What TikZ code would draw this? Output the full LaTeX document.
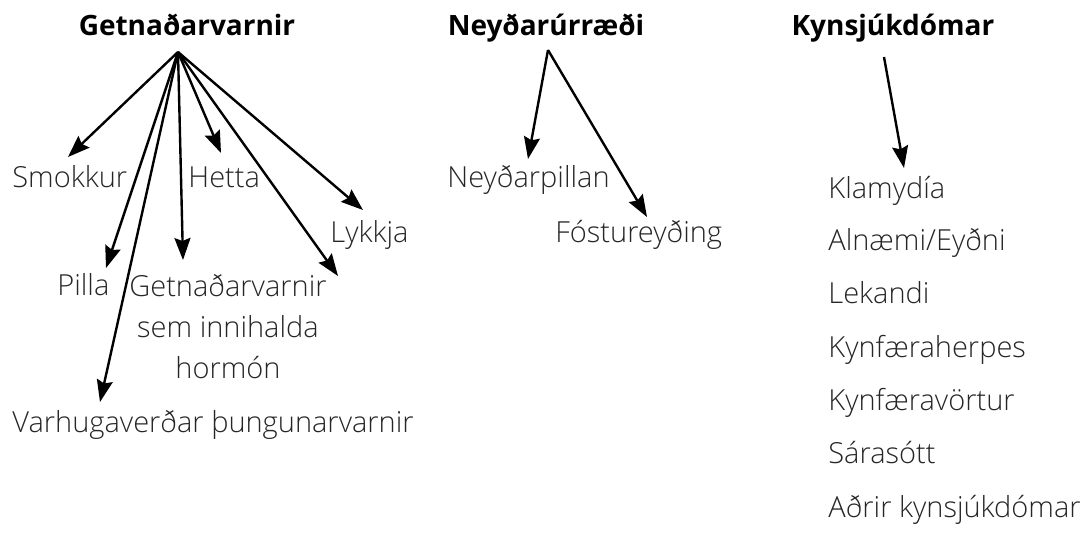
\documentclass[tikz,border=0pt]{standalone}
\usepackage{fontspec}
\setmainfont{Open Sans Light}[BoldFont={Open Sans Bold}]
\usetikzlibrary{arrows.meta}

\tikzset{
  item/.style={anchor=base west, inner sep=0pt, text=black!85,
    font=\fontsize{14.5}{20.5}\selectfont},
  head/.style={anchor=base, inner sep=0pt, font=\fontsize{14}{17}\selectfont\bfseries},
  link/.style={line width=1.2pt, -{Stealth[length=11pt,width=8pt,inset=1.5pt]}}
}

\begin{document}
\begin{tikzpicture}[x=0.5pt,y=-0.5pt]
  \useasboundingbox (0,0) rectangle (1088,542);

  % headings
  \node[head] (getn) at (187,35) {Getnaðarvarnir};
  \node[head] (neyd) at (546,35) {Neyðarúrræði};
  \node[head] (kyns) at (893,35) {Kynsjúkdómar};

  % contraception
  \node[item] (smokkur) at (12,187) {Smokkur};
  \node[item] (hetta) at (188,187) {Hetta};
  \node[item] (lykkja) at (330,242) {Lykkja};
  \node[item] (pilla) at (57,295) {Pilla};
  \node[item, anchor=north, align=center] (hormon) at (228,274)
    {Getnaðarvarnir\\sem innihalda\\hormón};
  \node[item] (varhug) at (12,432) {Varhugaverðar þungunarvarnir};

  \coordinate (getn from) at (178,52);
  \coordinate (to smokkur) at (68,157);
  \coordinate (to hetta) at (221,153);
  \coordinate (to lykkja) at (363,210);
  \coordinate (to pilla) at (106,268);
  \coordinate (to hormon) at (183,260);
  \coordinate (to hormon2) at (338,276);
  \coordinate (to varhug) at (100,402);

  \foreach \t in {smokkur,hetta,lykkja,pilla,hormon,hormon2,varhug} {
    \draw[link] (getn from) -- (to \t);
  }

  % emergency
  \node[item] (pillan) at (447,187) {Neyðarpillan};
  \node[item] (fost) at (555,242) {Fóstureyðing};

  \coordinate (neyd from) at (548,50);
  \coordinate (to pillan) at (528,159);
  \coordinate (to fost) at (647,217);

  \draw[link] (neyd from) -- (to pillan);
  \draw[link] (neyd from) -- (to fost);

  % diseases
  \node[item] (klam) at (828,198) {Klamydía};
  \node[item] (alnaemi) at (828,250) {Alnæmi/Eyðni};
  \node[item] (lek) at (828,303) {Lekandi};
  \node[item] (herpes) at (828,357) {Kynfæraherpes};
  \node[item] (vortur) at (828,410) {Kynfæravörtur};
  \node[item] (sara) at (828,463) {Sárasótt};
  \node[item] (adrir) at (828,517) {Aðrir kynsjúkdómar};

  \coordinate (kyns from) at (884,57);
  \coordinate (to klam) at (904,168);

  \draw[link] (kyns from) -- (to klam);
\end{tikzpicture}
\end{document}
